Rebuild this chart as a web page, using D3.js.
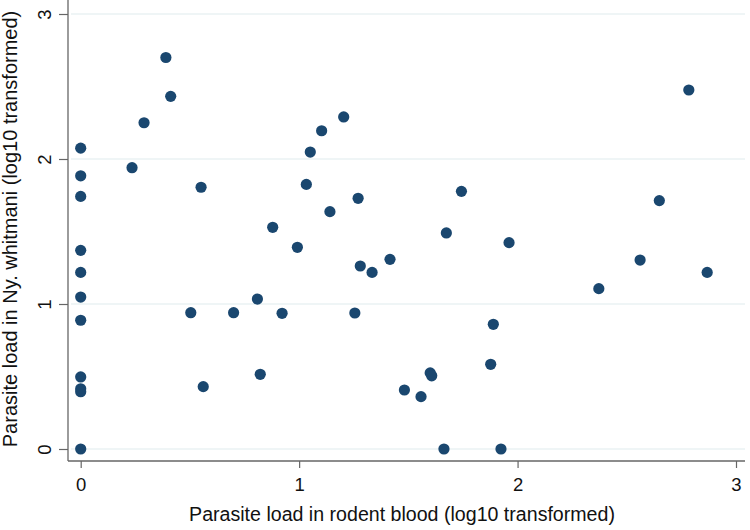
<!DOCTYPE html>
<html>
<head>
<meta charset="utf-8">
<script src="https://cdn.jsdelivr.net/npm/d3@7"></script>
<style>
  html, body { margin: 0; padding: 0; background: #fff; }
  svg { display: block; font-family: "Liberation Sans", Arial, Helvetica, sans-serif; }
</style>
</head>
<body>
<svg id="chart" width="750" height="530"></svg>
<script>
// Parasite load in rodent blood (log10)
const bloodLoad = [
  0, 0, 0, 0, 0, 0, 0, 0, 0, 0, 0,
  0.39, 0.412, 0.29, 0.235, 0.551, 0.879,
  1.051, 1.103, 1.204, 1.033, 1.141, 1.27,
  0.992, 1.28, 1.334, 1.416,
  0.504, 0.70, 0.809, 0.922, 1.255,
  0.561, 0.822, 1.482,
  1.743, 1.674, 1.961, 2.649, 2.561, 2.868, 2.372,
  1.889, 1.877, 1.600, 1.607, 1.558, 1.663, 1.924,
  2.784
];
// Parasite load in Ny. whitmani (log10)
const sandflyLoad = [
  2.075, 1.884, 1.742, 1.370, 1.218, 1.048, 0.888, 0.497, 0.415, 0.395, 0,
  2.70, 2.432, 2.25, 1.94, 1.805, 1.529,
  2.048, 2.195, 2.29, 1.825, 1.637, 1.729,
  1.391, 1.262, 1.218, 1.308,
  0.94, 0.94, 1.034, 0.936, 0.938,
  0.43, 0.515, 0.407,
  1.777, 1.49, 1.423, 1.713, 1.303, 1.218, 1.106,
  0.86, 0.584, 0.525, 0.505, 0.361, 0, 0,
  2.476
];
const xTicks = [0, 1, 2, 3];
const yTicks = [0, 1, 2, 3];
const xTitle = "Parasite load in rodent blood (log10 transformed)";
const yTitle = "Parasite load in Ny. whitmani (log10 transformed)";

const svg = d3.select("#chart");
const axisColor = "#666";
const gridColor = "#eaf2f3";
const dotColor = "#1a476f";

const x = d3.scaleLinear().domain([0, 3]).range([80.7, 736]);
const y = d3.scaleLinear().domain([0, 3]).range([449, 14]);

const plotLeft = 68, plotRight = 745, plotTop = 0, plotBottom = 461;

// gridlines
svg.append("g").selectAll("line").data(yTicks).join("line")
  .attr("x1", plotLeft + 3).attr("x2", plotRight)
  .attr("y1", d => y(d)).attr("y2", d => y(d))
  .attr("stroke", gridColor).attr("stroke-width", 1.5);

// y axis
const yAxis = svg.append("g").attr("transform", `translate(${plotLeft},0)`)
  .call(d3.axisLeft(y).tickValues(yTicks).tickSize(9).tickSizeOuter(0).tickFormat(d3.format("d")));
yAxis.select(".domain").remove();
yAxis.selectAll(".tick line").attr("stroke", axisColor).attr("stroke-width", 1.2);
yAxis.selectAll(".tick text")
  .attr("font-size", 18.5).attr("fill", "#111")
  .attr("x", 0).attr("dy", 0)
  .attr("text-anchor", "middle")
  .attr("transform", "translate(-17,0) rotate(-90)")
  .attr("y", 0);
svg.append("line").attr("x1", plotLeft).attr("x2", plotLeft).attr("y1", plotTop).attr("y2", plotBottom)
  .attr("stroke", axisColor).attr("stroke-width", 1.3);

// x axis
const xAxis = svg.append("g").attr("transform", `translate(0,${plotBottom})`)
  .call(d3.axisBottom(x).tickValues(xTicks).tickSize(7).tickSizeOuter(0).tickFormat(d3.format("d")));
xAxis.select(".domain").remove();
xAxis.selectAll(".tick line").attr("stroke", axisColor).attr("stroke-width", 1.2);
xAxis.selectAll(".tick text").attr("font-size", 18.5).attr("fill", "#111").attr("y", 30).attr("dy", 0);
svg.append("line").attr("x1", plotLeft).attr("x2", plotRight).attr("y1", plotBottom).attr("y2", plotBottom)
  .attr("stroke", axisColor).attr("stroke-width", 1.3);

// points
const pts = bloodLoad.map((v, i) => ({ x: v, y: sandflyLoad[i] }));
svg.append("g").selectAll("circle").data(pts).join("circle")
  .attr("cx", d => x(d.x)).attr("cy", d => y(d.y)).attr("r", 5.6)
  .attr("fill", dotColor);

// titles
svg.append("text").attr("x", 402).attr("y", 521).attr("text-anchor", "middle")
  .attr("font-size", 19.6).attr("fill", "#111").text(xTitle);
svg.append("text").attr("transform", "translate(17,229) rotate(-90)").attr("text-anchor", "middle")
  .attr("font-size", 20).attr("fill", "#111").text(yTitle);
</script>
</body>
</html>
